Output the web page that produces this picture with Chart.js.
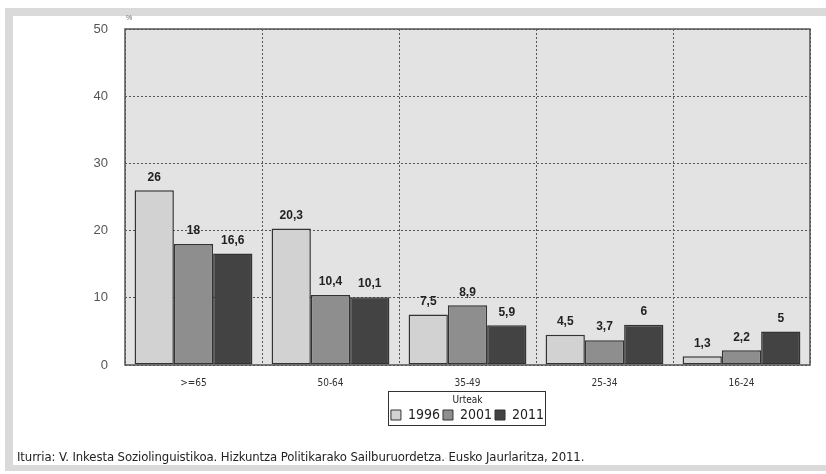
<!DOCTYPE html>
<html>
<head>
<meta charset="utf-8">
<script src="https://cdn.jsdelivr.net/npm/chart.js@4.4.1/dist/chart.umd.min.js"></script>
<style>
  body { margin: 0; background: #fff; }
  .frame { position: absolute; left: 5px; top: 8px; width: 840px; height: 463px; background: #dadada; }
  .panel { position: absolute; left: 13px; top: 16px; width: 830px; height: 449px; background: #fff; }
  #wrap { position: absolute; left: 0; top: 0; width: 826px; height: 474px; }
  .source { position: absolute; left: 17px; top: 449px; font: 13px 'DejaVu Sans Condensed', 'Liberation Sans', sans-serif; color: #222; letter-spacing: -0.1px; }
  .pct { position: absolute; left: 126px; top: 14px; font: 7px 'Liberation Sans', sans-serif; color: #666; }
</style>
</head>
<body>
<div class="frame"></div>
<div class="panel"></div>
<div id="wrap"><canvas id="myChart" width="826" height="474"></canvas></div>
<div class="pct">%</div>
<div class="source">Iturria: V. Inkesta Soziolinguistikoa. Hizkuntza Politikarako Sailburuordetza. Eusko Jaurlaritza, 2011.</div>
<script>
const ageGroups = ['>=65', '50-64', '35-49', '25-34', '16-24'];
const years = ['1996', '2001', '2011'];
const values1996 = [26, 20.3, 7.5, 4.5, 1.3];
const values2001 = [18, 10.4, 8.9, 3.7, 2.2];
const values2011 = [16.6, 10.1, 5.9, 6, 5];
const yTicks = [0, 10, 20, 30, 40, 50];

const narrow = "'DejaVu Sans Condensed', 'Liberation Sans', sans-serif";

const framePlugin = {
    id: 'framePlugin',
    afterUpdate(chart) {
        // centre the legend under the plot area, not the canvas
        const lg = chart.legend;
        const a = chart.chartArea;
        const shift = (a.left + a.right) / 2 - (lg.left + lg.right) / 2;
        lg.left += shift;
        lg.right += shift;
        lg.adjustHitBoxes();
    },
    beforeDraw(chart) {
        const a = chart.chartArea;
        const ctx = chart.ctx;
        ctx.save();
        ctx.fillStyle = '#e3e3e3';
        ctx.fillRect(a.left, a.top, a.right - a.left, a.bottom - a.top);
        ctx.restore();
    },
    afterDraw(chart) {
        const a = chart.chartArea;
        const ctx = chart.ctx;
        ctx.save();
        ctx.strokeStyle = '#555';
        ctx.lineWidth = 1.5;
        ctx.strokeRect(a.left, a.top, a.right - a.left, a.bottom - a.top);

        // box round the legend
        const lg = chart.legend;
        const boxes = lg.legendHitBoxes;
        if (boxes.length) {
            const minX = Math.min(...boxes.map(b => b.left)) - 3;
            const maxX = Math.max(...boxes.map(b => b.left + b.width)) + 1;
            ctx.strokeStyle = '#333';
            ctx.lineWidth = 1;
            ctx.strokeRect(Math.round(minX) + 0.5, Math.round(lg.top) + 0.5, Math.round(maxX - minX), Math.round(lg.height - 7));
        }
        ctx.restore();
    }
};

const valueLabels = {
    id: 'valueLabels',
    afterDatasetsDraw(chart) {
        const ctx = chart.ctx;
        ctx.save();
        ctx.font = 'bold 12px "Liberation Sans", Arial, sans-serif';
        ctx.fillStyle = '#222';
        ctx.textAlign = 'center';
        ctx.textBaseline = 'bottom';
        chart.data.datasets.forEach(function (ds, i) {
            chart.getDatasetMeta(i).data.forEach(function (bar, j) {
                ctx.fillText(String(ds.data[j]).replace('.', ','), bar.x, bar.y - 7);
            });
        });
        ctx.restore();
    }
};

const ctx = document.getElementById('myChart').getContext('2d');
const myChart = new Chart(ctx, {
    type: 'bar',
    data: {
        labels: ageGroups,
        datasets: [
            { label: years[0], data: values1996, backgroundColor: '#d2d2d2' },
            { label: years[1], data: values2001, backgroundColor: '#8e8e8e' },
            { label: years[2], data: values2011, backgroundColor: '#434343' }
        ].map(function (d) {
            return Object.assign(d, { borderColor: '#333', borderWidth: 1.5, borderSkipped: false, categoryPercentage: 0.86, barPercentage: 1 });
        })
    },
    options: {
        responsive: false,
        animation: false,
        layout: { padding: { left: 13, right: 16, top: 29, bottom: 42 } },
        plugins: {
            tooltip: { enabled: false },
            legend: {
                position: 'bottom',
                title: { display: true, text: 'Urteak', color: '#222', font: { family: narrow, size: 10, lineHeight: 1 }, padding: { top: 4, bottom: 0 } },
                labels: {
                    boxWidth: 10,
                    boxHeight: 10,
                    padding: 3,
                    color: '#222',
                    font: { family: narrow, size: 14 },
                    generateLabels(chart) {
                        return chart.data.datasets.map(function (ds, i) {
                            return { text: ds.label, fillStyle: ds.backgroundColor, strokeStyle: '#333', lineWidth: 1, datasetIndex: i };
                        });
                    }
                }
            }
        },
        scales: {
            x: {
                afterFit(scale) { scale.height = 26; },
                grid: { color: '#555', lineWidth: 1, drawTicks: false },
                border: { display: false, dash: [2, 2] },
                ticks: { color: '#333', font: { family: narrow, size: 10 }, padding: 12 }
            },
            y: {
                min: 0,
                max: 50,
                afterFit(scale) { scale.width = 112; },
                afterBuildTicks(scale) { scale.ticks = yTicks.map(v => ({ value: v })); },
                grid: { color: '#555', lineWidth: 1, drawTicks: false },
                border: { display: false, dash: [2, 2] },
                ticks: { color: '#555', font: { family: "'Liberation Sans', Arial, sans-serif", size: 13 }, padding: 17 }
            }
        }
    },
    plugins: [framePlugin, valueLabels]
});
</script>
</body>
</html>
